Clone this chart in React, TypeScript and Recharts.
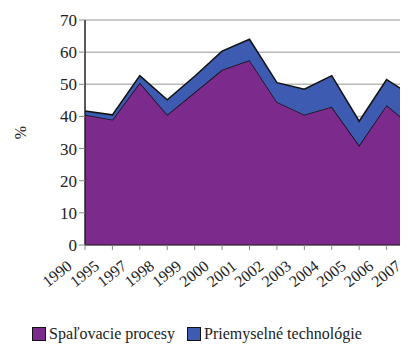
import { AreaChart, Area, XAxis, YAxis, CartesianGrid, Legend } from "recharts";

const years = ["1990", "1995", "1997", "1998", "1999", "2000", "2001", "2002", "2003", "2004", "2005", "2006", "2007"];
const spalovacie = [40.5, 39, 50.5, 40.5, 47.5, 54.5, 57.5, 44.5, 40.5, 43, 31, 43.5, 36.5];
const priemyselne = [1.2, 1.5, 2.2, 4.7, 5, 5.8, 6.5, 6, 8, 9.7, 7.5, 8, 9.5];
const yTicks = [0, 10, 20, 30, 40, 50, 60, 70];

const PURPLE = "#7C2A8B";
const BLUE = "#3D5CB1";
const FONT = "'Liberation Serif', 'Times New Roman', 'DejaVu Serif', serif";

const data = years.map((y, i) => ({ year: y, spal: spalovacie[i], priem: priemyselne[i] }));

function YearTick({ x, y, payload }: any) {
  return (
    <g transform={`translate(${x - 12},${y + 16})`}>
      <text textAnchor="end" transform="rotate(-38)" fontSize={16} fill="#222" fontFamily={FONT}>
        {payload.value}
      </text>
    </g>
  );
}

function LegendBox() {
  const items = [
    { label: "Spaľovacie procesy", color: PURPLE },
    { label: "Priemyselné technológie", color: BLUE },
  ];
  return (
    <div style={{ display: "flex", paddingLeft: 24, paddingTop: 20, fontFamily: FONT, fontSize: 16, color: "#222" }}>
      {items.map((it) => (
        <div key={it.label} style={{ display: "flex", alignItems: "center", marginRight: 12 }}>
          <span style={{ width: 12, height: 12, background: it.color, border: "1px solid #111", marginRight: 3, display: "inline-block" }} />
          <span>{it.label}</span>
        </div>
      ))}
    </div>
  );
}

export default function App() {
  return (
    <div style={{ width: 400, height: 339, overflow: "hidden", fontFamily: FONT }}>
      <AreaChart width={430} height={339} data={data} margin={{ top: 12, right: 24, left: 0, bottom: 0 }}>
        <CartesianGrid vertical={false} stroke="#b8b8b8" strokeWidth={1.5} />
        <XAxis
          dataKey="year"
          axisLine={{ stroke: "#222" }}
          tickLine={{ stroke: "#888" }}
          tickSize={5}
          height={60}
          interval={0}
          tick={<YearTick />}
        />
        <YAxis
          width={77}
          domain={[0, 70]}
          ticks={yTicks}
          axisLine={{ stroke: "#222", strokeWidth: 1.5 }}
          tickLine={{ stroke: "#888" }}
          tickSize={6}
          tick={{ fontSize: 17, fill: "#222", fontFamily: FONT }}
          label={{
            content: ({ viewBox }: any) => (
              <text
                x={18}
                y={viewBox.y + viewBox.height / 2}
                transform={`rotate(-90, 18, ${viewBox.y + viewBox.height / 2})`}
                textAnchor="middle"
                fontSize={16}
                fill="#222"
                fontFamily={FONT}
              >
                %
              </text>
            ),
          }}
        />
        <Legend verticalAlign="bottom" align="left" height={42} content={<LegendBox />} />
        <Area
          type="linear"
          dataKey="spal"
          name="Spaľovacie procesy"
          stackId="a"
          fill={PURPLE}
          fillOpacity={1}
          stroke="#111"
          strokeWidth={1.5}
          isAnimationActive={false}
        />
        <Area
          type="linear"
          dataKey="priem"
          name="Priemyselné technológie"
          stackId="a"
          fill={BLUE}
          fillOpacity={1}
          stroke="#111"
          strokeWidth={1.5}
          isAnimationActive={false}
        />
      </AreaChart>
    </div>
  );
}
